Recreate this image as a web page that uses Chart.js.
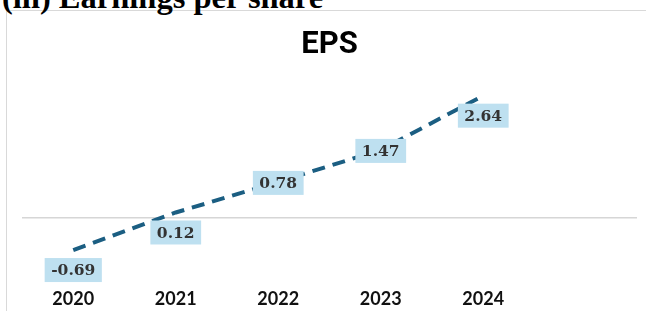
<!DOCTYPE html>
<html>
<head>
<meta charset="utf-8">
<script src="https://cdn.jsdelivr.net/npm/chart.js@4"></script>
<style>
  html, body { margin: 0; padding: 0; background: #fff; width: 646px; height: 311px; overflow: hidden; }
  #wrap { position: relative; width: 646px; height: 311px; }
  #heading { position: absolute; left: 2px; top: -19px; font-family: "Liberation Serif", serif; font-weight: bold; font-size: 32.5px; line-height: 32.5px; color: #000; white-space: nowrap; }
  #box { position: absolute; left: 6px; top: 10px; width: 700px; height: 400px; border: 1px solid #d9d9d9; box-sizing: border-box; }
  #c { position: absolute; left: 0; top: 0; }
</style>
</head>
<body>
<div id="wrap">
  <div id="box"></div>
  <div id="heading">(iii) Earnings per share</div>
  <canvas id="c" width="646" height="311"></canvas>
</div>
<script>
// ---- data ----
const categories = ['2020', '2021', '2022', '2023', '2024', ''];
const epsValues = [-0.69, 0.12, 0.78, 1.47, 2.64];
const chartTitle = 'EPS';

// label placement relative to each point (style, not data)
const labelPlacement = ['below', 'below', 'center', 'center', 'below'];

const valueLabelPlugin = {
  id: 'valueLabels',
  afterDatasetsDraw(chart) {
    const ctx = chart.ctx;
    const meta = chart.getDatasetMeta(0);
    ctx.save();
    ctx.font = 'bold 15.5px "DejaVu Serif"';
    ctx.textAlign = 'center';
    ctx.textBaseline = 'middle';
    meta.data.forEach((pt, i) => {
      const txt = epsValues[i].toFixed(2);
      const w = ctx.measureText(txt).width + 13;
      const h = 24;
      const cy = pt.y + (labelPlacement[i] === 'below' ? 20 : 1);
      ctx.fillStyle = '#bee0f0';
      ctx.fillRect(pt.x - w / 2, cy - h / 2, w, h);
      ctx.fillStyle = '#333333';
      ctx.fillText(txt, pt.x, cy + 1);
    });
    ctx.restore();
  }
};

function draw() {
  new Chart(document.getElementById('c'), {
    type: 'line',
    data: {
      labels: categories,
      datasets: [{
        data: epsValues,
        borderColor: '#1b5e82',
        borderWidth: 4,
        borderDash: [13, 8],
        pointRadius: 0,
        tension: 0,
        fill: false
      }]
    },
    options: {
      responsive: false,
      animation: false,
      devicePixelRatio: 1,
      layout: { padding: { left: 22, right: 9, top: 0, bottom: 0 } },
      plugins: {
        legend: { display: false },
        tooltip: { enabled: false },
        title: {
          display: true,
          text: chartTitle,
          color: '#000',
          font: { family: 'Roboto', weight: 'bold', size: 31 },
          padding: { top: 26.5, bottom: 6 }
        }
      },
      scales: {
        x: {
          offset: true,
          grid: { display: false, drawTicks: false },
          border: { display: false },
          ticks: { color: '#111111', font: { family: 'Lato', weight: 'bold', size: 18 }, padding: 1, maxRotation: 0, autoSkip: false },
          afterFit: s => { s.height = 23.4; }
        },
        y: {
          min: -1.5,
          max: 3.2,
          ticks: { display: false, stepSize: 0.5 },
          border: { display: false },
          grid: {
            drawTicks: false,
            lineWidth: 1.5,
            color: c => (c.tick && c.tick.value === 0 ? '#d6d6d6' : 'rgba(0,0,0,0)')
          },
          afterFit: s => { s.width = 0; }
        }
      }
    },
    plugins: [valueLabelPlugin]
  });
}

Promise.all([
  document.fonts.load('bold 31px Roboto'),
  document.fonts.load('bold 18px Lato'),
  document.fonts.load('bold 15.5px "DejaVu Serif"')
]).then(draw, draw);
</script>
</body>
</html>
